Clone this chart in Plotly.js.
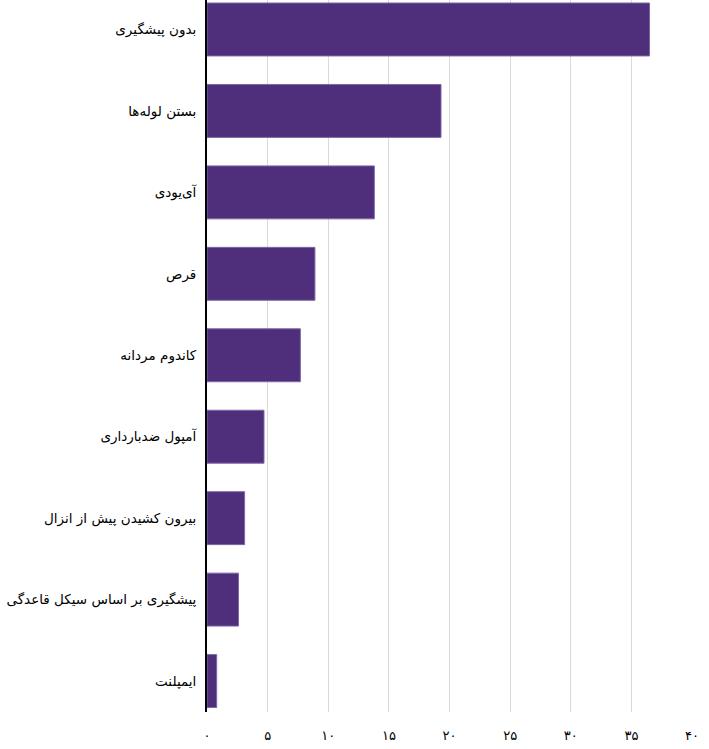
<!DOCTYPE html>
<html>
<head>
<meta charset="utf-8">
<script src="https://cdn.plot.ly/plotly-3.0.1.min.js"></script>
<style>
  html, body { margin: 0; padding: 0; background: #fff; }
  #chart { width: 709px; height: 749px; }
</style>
</head>
<body>
<div id="chart"></div>
<script>
// روش‌های پیشگیری (از بالا به پایین)
const categories = [
    "بدون پیشگیری",
    "بستن لوله‌ها",
    "آی‌یودی",
    "قرص",
    "کاندوم مردانه",
    "آمپول ضدبارداری",
    "بیرون کشیدن پیش از انزال",
    "پیشگیری بر اساس سیکل قاعدگی",
    "ایمپلنت"
];
const values = [36.5, 19.3, 13.8, 8.9, 7.7, 4.7, 3.1, 2.6, 0.8];
const tickVals = [0, 5, 10, 15, 20, 25, 30, 35, 40];
const tickText = ["۰", "۵", "۱۰", "۱۵", "۲۰", "۲۵", "۳۰", "۳۵", "۴۰"];

const Chart = {
    draw: (html_id) => {
        let data = [{
            type: 'bar',
            orientation: 'h',
            x: values,
            y: categories,
            width: 0.65,
            marker: {
                color: '#4f2e7c',
                line: { color: '#7d67a6', width: 1 }
            },
            hoverinfo: 'x+y'
        }];
        let layout = {
            width: 709,
            height: 749,
            margin: { l: 207, r: 17, t: 0, b: 37 },
            paper_bgcolor: '#ffffff',
            plot_bgcolor: '#ffffff',
            showlegend: false,
            font: { family: '"DejaVu Sans", "Noto Sans", sans-serif', color: '#000000', size: 14 },
            xaxis: {
                range: [0, 40],
                tickvals: tickVals,
                ticktext: tickText,
                showgrid: true,
                gridcolor: '#d9d9d9',
                gridwidth: 1,
                zeroline: false,
                showline: false,
                ticks: 'outside',
                ticklen: 11,
                tickcolor: 'rgba(0,0,0,0)',
                tickfont: { size: 13 }
            },
            yaxis: {
                type: 'category',
                range: [8.38, -0.362],
                showgrid: false,
                zeroline: false,
                showline: true,
                linecolor: '#000000',
                linewidth: 2,
                ticks: 'outside',
                ticklen: 6,
                tickcolor: 'rgba(0,0,0,0)',
                tickfont: { size: 13.5 }
            }
        };
        Plotly.newPlot(html_id, data, layout, { staticPlot: true });
    }
};

Chart.draw("chart");
</script>
</body>
</html>
